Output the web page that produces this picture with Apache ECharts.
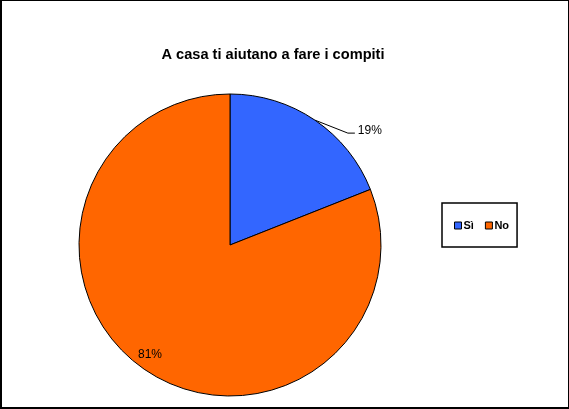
<!DOCTYPE html>
<html>
<head>
<meta charset="utf-8">
<script src="https://cdn.jsdelivr.net/npm/echarts@6/dist/echarts.min.js"></script>
<style>
html,body{margin:0;padding:0;background:#fff;}
#frame{position:absolute;left:0;top:0;width:569px;height:409px;box-sizing:border-box;border-style:solid;border-color:#000;border-width:1px 1px 2px 2px;}
#chart{position:absolute;left:0;top:0;width:569px;height:409px;}
</style>
</head>
<body>
<div id="chart"></div>
<div id="frame"></div>
<script>
const titleText = 'A casa ti aiutano a fare i compiti';
const categories = ['Sì', 'No'];
const values = [19, 81];
const colors = ['#3366FF', '#FF6600'];

const chart = echarts.init(document.getElementById('chart'), null, {renderer: 'canvas'});
const font = 'Liberation Sans, Arial, sans-serif';

const mainData = categories.map((c, i) => ({
  name: c,
  value: values[i],
  itemStyle: {color: colors[i]},
  label: {show: i === 0},
  labelLine: {show: i === 0}
}));
const overlayData = categories.map((c, i) => ({
  name: c,
  value: values[i],
  label: {show: i === 1}
}));

chart.setOption({
  animation: false,
  title: {
    text: titleText,
    left: 268, top: 42, textAlign: 'center',
    textStyle: {fontFamily: font, fontSize: 14.6, fontWeight: 'bold', color: '#000'}
  },
  legend: {
    data: categories,
    left: 442, top: 203,
    orient: 'horizontal',
    padding: [17, 8, 16, 12],
    itemGap: 11,
    itemWidth: 7, itemHeight: 7,
    itemStyle: {borderColor: '#000', borderWidth: 1},
    icon: 'rect',
    borderColor: '#000', borderWidth: 1.5,
    textStyle: {fontFamily: font, fontSize: 11, fontWeight: 'bold', color: '#000', padding: [0, 0, 0, -3]},
    selectedMode: false
  },
  series: [
    {
      type: 'pie',
      center: [230, 245],
      radius: [0, 151],
      startAngle: 90,
      clockwise: true,
      data: mainData,
      itemStyle: {borderColor: '#000', borderWidth: 1},
      label: {
        position: 'outside',
        formatter: p => Math.round(p.percent) + '%',
        fontFamily: font, fontSize: 12, color: '#000'
      },
      labelLine: {length: 12, length2: 8, smooth: false, lineStyle: {color: '#000', width: 1}},
      labelLayout: function (p) {
        if (p.dataIndex !== 0 || !p.labelLinePoints) return {};
        const s = p.labelLinePoints[0];
        const sx = s[0], sy = s[1];
        return {
          x: sx + 43, y: sy + 11, align: 'left', verticalAlign: 'middle',
          labelLinePoints: [[sx, sy], [sx + 33, sy + 13], [sx + 40, sy + 13]]
        };
      },
      emphasis: {disabled: true},
      silent: true
    },
    {
      type: 'pie',
      center: [230, 245],
      radius: [117, 151],
      startAngle: 90,
      clockwise: true,
      data: overlayData,
      itemStyle: {color: 'rgba(0,0,0,0)', borderWidth: 0},
      label: {
        position: 'inside',
        formatter: p => Math.round(p.percent) + '%',
        fontFamily: font, fontSize: 12, color: '#000'
      },
      labelLine: {show: false},
      labelLayout: function (p) {
        return p.dataIndex === 1 ? {dx: -3, dy: -4} : {};
      },
      legendHoverLink: false,
      emphasis: {disabled: true},
      silent: true,
      z: 3
    }
  ]
});
</script>
</body>
</html>
